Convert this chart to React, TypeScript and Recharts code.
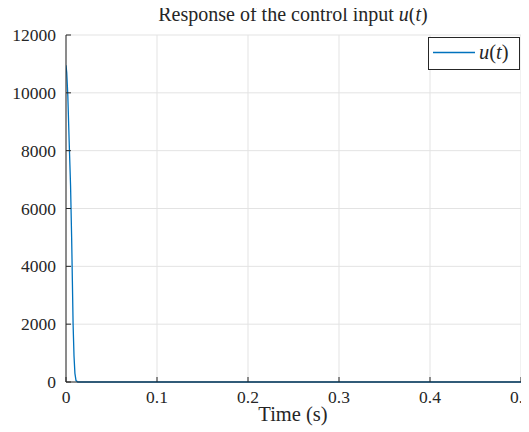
import React from "react";
import {
  LineChart,
  Line,
  XAxis,
  YAxis,
  CartesianGrid,
} from "recharts";

const timeValues = [0, 0.0008, 0.002, 0.0035, 0.005, 0.0062, 0.007, 0.0078, 0.0088, 0.0098, 0.011, 0.013, 0.05, 0.1, 0.2, 0.3, 0.4, 0.5];
const uValues = [10950, 10700, 9900, 8300, 6800, 5000, 3500, 2000, 900, 300, 50, 0, 0, 0, 0, 0, 0, 0];
const xTicks = [0, 0.1, 0.2, 0.3, 0.4, 0.5];
const xTickLabels = ["0", "0.1", "0.2", "0.3", "0.4", "0.5"];
const yTicks = [0, 2000, 4000, 6000, 8000, 10000, 12000];
const yTickLabels = ["0", "2000", "4000", "6000", "8000", "10000", "12000"];

const data = timeValues.map((t, i) => ({ t, u: uValues[i] }));

const FONT = "'Liberation Serif', 'Times New Roman', Times, serif";
const AXIS = "#262626";
const BLUE = "#0072BD";
const FS = 17.5;
const TL = 5;

const textStyle = { fontFamily: FONT, fontSize: FS } as React.CSSProperties;
const labelStyle = { fontFamily: FONT, fontSize: 20.5 } as React.CSSProperties;
const titleStyle = { fontFamily: FONT, fontSize: 20 } as React.CSSProperties;

const BottomTick = (props: any) => {
  const { x, y, payload } = props;
  const idx = xTicks.indexOf(payload.value);
  return (
    <g>
      <line x1={x} y1={y} x2={x} y2={y - TL} stroke={AXIS} strokeWidth={1} />
      <text x={x} y={y + 21} textAnchor="middle" style={textStyle} fill={AXIS}>
        {idx >= 0 ? xTickLabels[idx] : payload.value}
      </text>
    </g>
  );
};

const TopTick = (props: any) => {
  const { x, y } = props;
  return <line x1={x} y1={y} x2={x} y2={y + TL} stroke={AXIS} strokeWidth={1} />;
};

const LeftTick = (props: any) => {
  const { x, y, payload } = props;
  const idx = yTicks.indexOf(payload.value);
  return (
    <g>
      <line x1={x} y1={y} x2={x + TL} y2={y} stroke={AXIS} strokeWidth={1} />
      <text x={x - 10} y={y + 6} textAnchor="end" style={textStyle} fill={AXIS}>
        {idx >= 0 ? yTickLabels[idx] : payload.value}
      </text>
    </g>
  );
};

const RightTick = (props: any) => {
  const { x, y } = props;
  return <line x1={x} y1={y} x2={x - TL} y2={y} stroke={AXIS} strokeWidth={1} />;
};

export default function App() {
  return (
    <div style={{ width: 529, height: 432, position: "relative", left: -8, top: -8 }}>
      <LineChart
        width={529}
        height={432}
        data={data}
        margin={{ top: 35, right: 8, bottom: 0, left: 0 }}
        style={{ fontFamily: FONT }}
      >
        <CartesianGrid stroke="#e3e3e3" strokeWidth={1} xAxisId="bottom" yAxisId="left" />
        <XAxis
          xAxisId="bottom"
          dataKey="t"
          type="number"
          domain={[0, 0.5]}
          ticks={xTicks}
          allowDataOverflow
          height={50}
          axisLine={{ stroke: AXIS }}
          tickLine={false}
          tickSize={0}
          tickMargin={0}
          tick={<BottomTick />}
          interval={0}
        />
        <XAxis
          xAxisId="top"
          orientation="top"
          dataKey="t"
          type="number"
          domain={[0, 0.5]}
          ticks={xTicks}
          height={0}
          axisLine={{ stroke: AXIS }}
          tickLine={false}
          tickSize={0}
          tickMargin={0}
          tick={<TopTick />}
          interval={0}
        />
        <YAxis
          yAxisId="left"
          type="number"
          domain={[0, 12000]}
          ticks={yTicks}
          width={66}
          axisLine={{ stroke: AXIS }}
          tickLine={false}
          tickSize={0}
          tickMargin={0}
          tick={<LeftTick />}
          interval={0}
        />
        <YAxis
          yAxisId="right"
          orientation="right"
          type="number"
          domain={[0, 12000]}
          ticks={yTicks}
          width={0}
          axisLine={{ stroke: AXIS }}
          tickLine={false}
          tickSize={0}
          tickMargin={0}
          tick={<RightTick />}
          interval={0}
        />
        <Line
          xAxisId="bottom"
          yAxisId="left"
          type="linear"
          dataKey="u"
          stroke={BLUE}
          strokeWidth={1.3}
          dot={false}
          isAnimationActive={false}
          name="u(t)"
        />
        <g>
          <rect x={428.5} y={37.5} width={91} height={32} fill="#fff" stroke={AXIS} strokeWidth={1} />
          <line x1={433} y1={52.5} x2={475} y2={52.5} stroke={BLUE} strokeWidth={1.3} />
          <text x={479} y={58.5} style={labelStyle} fill={AXIS}>
            <tspan fontStyle="italic">u</tspan>(<tspan fontStyle="italic">t</tspan>)
          </text>
        </g>
        <text x={293} y={21} textAnchor="middle" style={titleStyle} fill={AXIS}>
          Response of the control input <tspan fontStyle="italic">u</tspan>(<tspan fontStyle="italic">t</tspan>)
        </text>
        <text x={293} y={421} textAnchor="middle" style={labelStyle} fill={AXIS}>
          Time (s)
        </text>
      </LineChart>
    </div>
  );
}
